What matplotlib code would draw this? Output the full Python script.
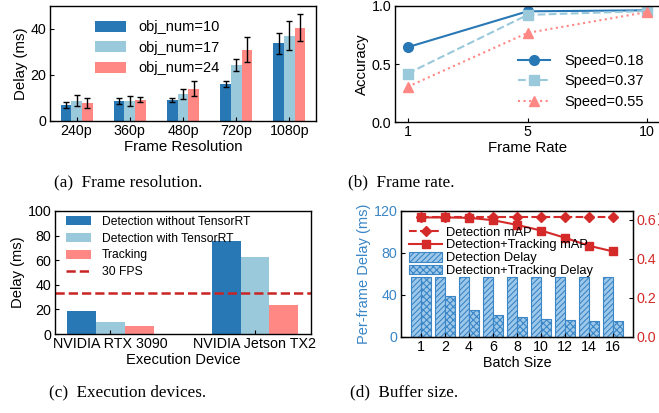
import numpy as np
import matplotlib
matplotlib.use("Agg")
import matplotlib.pyplot as plt

plt.rcParams['font.family'] = ['Liberation Sans', 'DejaVu Sans']
plt.rcParams['hatch.linewidth'] = 0.8

# colours
c_dark = '#2878B5'
c_light = '#9AC9DB'
c_pink = '#FF8884'
c_red = '#D42A2A'

# (a) frame resolution
res_labels = ['240p', '360p', '480p', '720p', '1080p']
obj_names = ['obj_num=10', 'obj_num=17', 'obj_num=24']
delay_10 = [7.0, 8.7, 9.3, 16.1, 33.7]
delay_17 = [8.9, 8.7, 11.8, 24.4, 37.1]
delay_24 = [7.8, 9.3, 14.0, 31.0, 40.6]
err_10 = [1.2, 1.1, 0.9, 1.4, 4.6]
err_17 = [2.4, 2.1, 2.2, 2.7, 6.4]
err_24 = [2.0, 1.2, 3.3, 5.4, 5.9]

# (b) frame rate
rate_labels = ['1', '5', '10']
speed_names = ['Speed=0.18', 'Speed=0.37', 'Speed=0.55']
acc_018 = [0.645, 0.954, 0.963]
acc_037 = [0.418, 0.923, 0.957]
acc_055 = [0.304, 0.768, 0.948]

# (c) execution devices
devices = ['NVIDIA RTX 3090', 'NVIDIA Jetson TX2']
det_no_trt = [18.4, 75.6]
det_trt = [9.5, 62.3]
tracking = [6.2, 23.6]
fps30 = 1000 / 30

# (d) buffer size
batch = ['1', '2', '4', '6', '8', '10', '12', '14', '16']
det_delay = [57.1] * 9
dt_delay = [57.1, 39.0, 25.4, 20.6, 18.7, 17.1, 15.9, 15.6, 14.9]
det_map = [0.612] * 9
dt_map = [0.612, 0.612, 0.61, 0.598, 0.574, 0.545, 0.508, 0.467, 0.438]

fig = plt.figure(figsize=(6.59, 4.13), dpi=100)
W, H = 659, 413

def add_ax(x0, x1, y0, y1):
    return fig.add_axes([x0 / W, 1 - y1 / H, (x1 - x0) / W, (y1 - y0) / H])

def style(ax, fs=10):
    ax.tick_params(direction='in', labelsize=fs, length=3, width=0.8, pad=2.5)
    for s in ax.spines.values():
        s.set_linewidth(1.0)

# ---- (a)
ax = add_ax(50, 316, 6, 121)
x = np.arange(len(res_labels))
w = 0.2
ekw = dict(ecolor='black', capsize=2, elinewidth=1, capthick=1)
ax.bar(x - w, delay_10, w, yerr=err_10, color=c_dark, label=obj_names[0], error_kw=ekw)
ax.bar(x, delay_17, w, yerr=err_17, color=c_light, label=obj_names[1], error_kw=ekw)
ax.bar(x + w, delay_24, w, yerr=err_24, color=c_pink, label=obj_names[2], error_kw=ekw)
ax.set_xlim(-0.5, 4.5)
ax.set_ylim(0, 50)
ax.set_yticks([0, 20, 40])
ax.set_xticks(x)
ax.set_xticklabels(res_labels)
ax.set_xlabel('Frame Resolution', fontsize=10.8, labelpad=1)
ax.set_ylabel('Delay (ms)', fontsize=10.8, labelpad=2)
style(ax, 10.3)
ax.legend(loc='upper left', bbox_to_anchor=(0.12, 0.99), frameon=False, fontsize=10.5,
          handlelength=2.1, handleheight=0.8, labelspacing=0.45, handletextpad=0.9)

# ---- (b)
ax = add_ax(395, 660, 6, 122)
xr = np.arange(len(rate_labels))
ax.plot(xr, acc_018, '-', marker='o', color=c_dark, lw=1.5, ms=7, label=speed_names[0])
ax.plot(xr, acc_037, '--', marker='s', color=c_light, lw=1.5, ms=7, label=speed_names[1])
ax.plot(xr, acc_055, ':', marker='^', color=c_pink, lw=1.5, ms=7, label=speed_names[2])
ax.set_xlim(-0.106, 2.106)
ax.set_ylim(0, 1.0)
ax.set_yticks([0.0, 0.5, 1.0])
ax.set_xticks(xr)
ax.set_xticklabels(rate_labels)
ax.set_xlabel('Frame Rate', fontsize=10.8, labelpad=1)
ax.set_ylabel('Accuracy', fontsize=10.8, labelpad=2)
style(ax, 10.3)
ax.legend(loc='lower right', bbox_to_anchor=(0.99, 0.0), frameon=False, fontsize=10.5,
          handlelength=2.2, labelspacing=0.45, handletextpad=1.0)

# ---- (c)
ax = add_ax(55, 311, 211, 334)
xd = np.arange(len(devices))
h1 = ax.bar(xd - w, det_no_trt, w, color=c_dark)
h2 = ax.bar(xd, det_trt, w, color=c_light)
h3 = ax.bar(xd + w, tracking, w, color=c_pink)
h4 = ax.axhline(fps30, color='#C82423', ls='--', lw=1.8)
ax.set_xlim(-0.382, 1.387)
ax.set_ylim(0, 100)
ax.set_yticks([0, 20, 40, 60, 80, 100])
ax.set_xticks(xd)
ax.set_xticklabels(devices)
ax.set_xlabel('Execution Device', fontsize=10.6, labelpad=1)
ax.set_ylabel('Delay (ms)', fontsize=10.6, labelpad=2)
style(ax, 10.3)
ax.legend([h1, h2, h3, h4],
          ['Detection without TensorRT', 'Detection with TensorRT', 'Tracking', '30 FPS'],
          loc='upper left', bbox_to_anchor=(0.0, 1.05), frameon=False, fontsize=8.7,
          handlelength=2.1, handleheight=0.8, labelspacing=0.4, handletextpad=0.9)

# ---- (d)
ax = add_ax(401, 633, 211, 337)
xb = np.arange(len(batch))
bw = 0.4
b1 = ax.bar(xb - bw / 2, det_delay, bw, color='#9ec8ea', edgecolor='#3a86c6', lw=0.8,
            hatch='//////')
b2 = ax.bar(xb + bw / 2, dt_delay, bw, color='#9ec8ea', edgecolor='#3a86c6', lw=0.8,
            hatch='xxxxx')
ax.set_xlim(-0.83, 8.83)
ax.set_ylim(0, 120)
ax.set_yticks([0, 40, 80, 120])
ax.set_xticks(xb)
ax.set_xticklabels(batch)
ax.set_xlabel('Batch Size', fontsize=10.3, labelpad=1)
ax.set_ylabel('Per-frame Delay (ms)', fontsize=10.5, color='#3a86c6', labelpad=2)
style(ax, 10.3)
ax.tick_params(axis='y', labelcolor='#3a86c6')

ax2 = ax.twinx()
l1, = ax2.plot(xb, det_map, '--', marker='D', color=c_red, lw=1.5, ms=5.5)
l2, = ax2.plot(xb, dt_map, '-', marker='s', color=c_red, lw=1.5, ms=5.5)
ax2.set_ylim(0, 0.645)
ax2.set_yticks([0.0, 0.2, 0.4, 0.6])
ax2.set_yticklabels(['0.0', '0.2', '0.4', '0.6'])
ax2.tick_params(direction='in', labelsize=10.3, length=3, width=0.8, pad=2.5, labelcolor=c_red)
ax2.set_ylabel('Mean Average Precision', fontsize=10.5, color=c_red, labelpad=2)
ax2.legend([l1, l2, b1, b2], ['Detection mAP', 'Detection+Tracking mAP', 'Detection Delay',
                              'Detection+Tracking Delay'],
           loc='upper left', bbox_to_anchor=(0.0, 0.94), frameon=False, fontsize=9.3,
           handlelength=2.6, handleheight=0.75, labelspacing=0.05, handletextpad=0.3,
           borderaxespad=0.2)

# captions
cap = dict(family=['Liberation Serif', 'DejaVu Serif'], fontsize=12.3, ha='center', va='center')
fig.text(128 / W, 1 - 182 / H, '(a)  Frame resolution.', **cap)
fig.text(401 / W, 1 - 182 / H, '(b)  Frame rate.', **cap)
fig.text(128 / W, 1 - 392 / H, '(c)  Execution devices.', **cap)
fig.text(404 / W, 1 - 392 / H, '(d)  Buffer size.', **cap)

fig.savefig('out.png', dpi=100)
